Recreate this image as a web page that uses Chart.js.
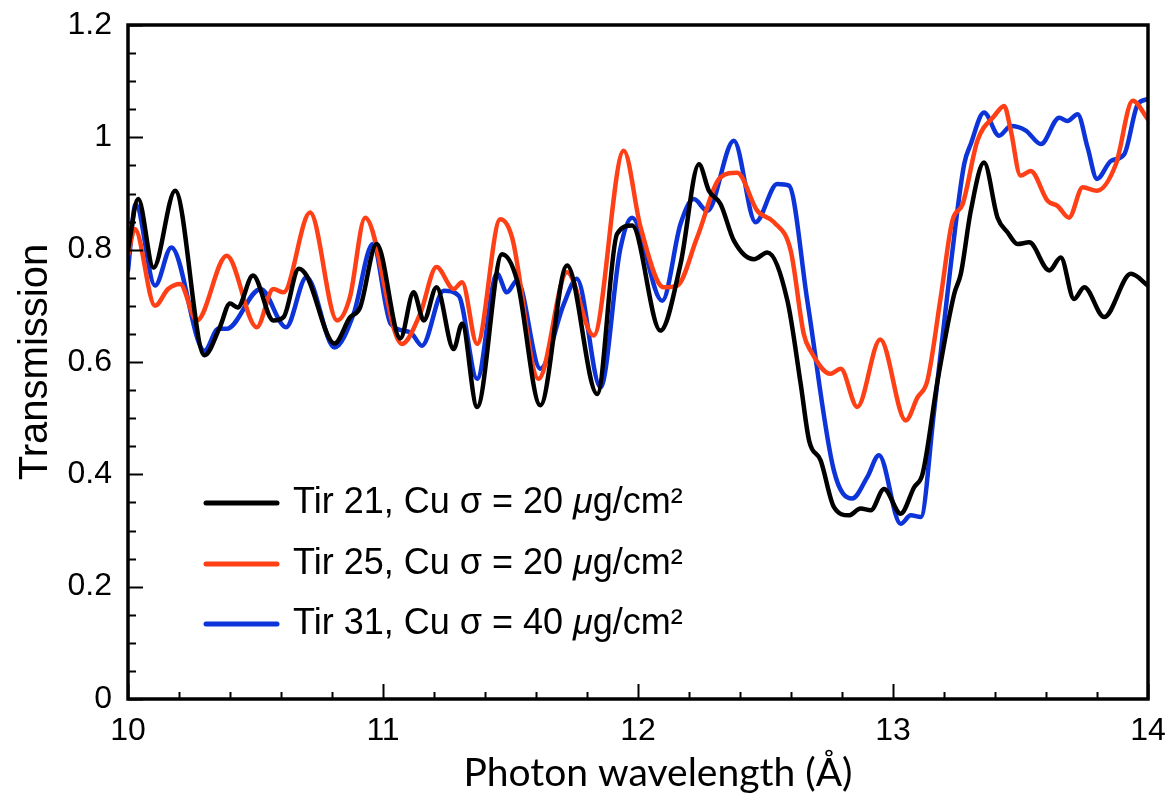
<!DOCTYPE html>
<html>
<head>
<meta charset="utf-8">
<script src="https://cdn.jsdelivr.net/npm/chart.js@4.4.1/dist/chart.umd.min.js"></script>
<style>
  html, body { margin: 0; padding: 0; background: #fff; }
  #wrap { width: 1171px; height: 801px; }
</style>
</head>
<body>
<div id="wrap"><canvas id="c" width="1171" height="801"></canvas></div>
<script>
// ---- Data ----
const tir21X = [10.0, 10.04, 10.10, 10.185, 10.30, 10.36, 10.40, 10.43, 10.49, 10.57, 10.61, 10.67, 10.70, 10.81, 10.87, 10.91, 10.975, 11.068, 11.12, 11.16, 11.21, 11.277, 11.31, 11.369, 11.467, 11.526, 11.617, 11.722, 11.84, 11.918, 11.977, 12.088, 12.167, 12.239, 12.278, 12.324, 12.376, 12.455, 12.507, 12.586, 12.638, 12.671, 12.716, 12.768, 12.827, 12.873, 12.913, 12.965, 13.03, 13.083, 13.116, 13.175, 13.24, 13.266, 13.305, 13.357, 13.41, 13.449, 13.488, 13.534, 13.613, 13.658, 13.71, 13.75, 13.828, 13.933, 14.0];
const tir21Y = [0.80, 0.89, 0.768, 0.905, 0.612, 0.662, 0.704, 0.697, 0.754, 0.674, 0.68, 0.766, 0.754, 0.633, 0.679, 0.697, 0.81, 0.642, 0.724, 0.674, 0.733, 0.623, 0.668, 0.52, 0.792, 0.745, 0.523, 0.772, 0.543, 0.828, 0.843, 0.656, 0.775, 0.952, 0.905, 0.881, 0.816, 0.783, 0.795, 0.709, 0.561, 0.46, 0.425, 0.342, 0.327, 0.339, 0.336, 0.374, 0.33, 0.377, 0.401, 0.567, 0.721, 0.757, 0.869, 0.955, 0.857, 0.831, 0.81, 0.813, 0.763, 0.786, 0.712, 0.733, 0.68, 0.757, 0.736];

const tir25X = [10.0, 10.027, 10.106, 10.157, 10.204, 10.27, 10.387, 10.505, 10.57, 10.61, 10.714, 10.82, 10.87, 10.93, 11.074, 11.146, 11.21, 11.277, 11.31, 11.369, 11.46, 11.506, 11.61, 11.722, 11.826, 11.944, 12.01, 12.10, 12.154, 12.232, 12.324, 12.389, 12.468, 12.533, 12.599, 12.65, 12.677, 12.755, 12.795, 12.86, 12.95, 13.05, 13.096, 13.135, 13.187, 13.233, 13.273, 13.331, 13.397, 13.436, 13.462, 13.50, 13.54, 13.606, 13.645, 13.69, 13.744, 13.80, 13.874, 13.94, 14.0];
const tir25Y = [0.79, 0.837, 0.70, 0.73, 0.739, 0.674, 0.789, 0.662, 0.73, 0.724, 0.866, 0.674, 0.715, 0.857, 0.632, 0.686, 0.769, 0.73, 0.742, 0.632, 0.854, 0.822, 0.57, 0.76, 0.647, 0.976, 0.84, 0.733, 0.736, 0.822, 0.929, 0.937, 0.869, 0.849, 0.798, 0.65, 0.62, 0.579, 0.588, 0.52, 0.64, 0.496, 0.537, 0.567, 0.715, 0.852, 0.881, 0.994, 1.038, 1.056, 1.012, 0.932, 0.94, 0.887, 0.878, 0.857, 0.911, 0.905, 0.952, 1.065, 1.032];

const tir31X = [10.0, 10.03, 10.106, 10.17, 10.30, 10.354, 10.387, 10.52, 10.62, 10.70, 10.81, 10.885, 10.96, 11.03, 11.107, 11.153, 11.238, 11.297, 11.369, 11.447, 11.486, 11.526, 11.617, 11.709, 11.76, 11.853, 11.93, 11.977, 12.095, 12.167, 12.219, 12.272, 12.376, 12.461, 12.546, 12.592, 12.664, 12.768, 12.84, 12.899, 12.945, 13.03, 13.07, 13.109, 13.16, 13.227, 13.279, 13.305, 13.357, 13.416, 13.462, 13.521, 13.58, 13.652, 13.684, 13.724, 13.763, 13.80, 13.855, 13.907, 13.96, 14.0];
const tir31Y = [0.763, 0.881, 0.736, 0.804, 0.62, 0.659, 0.659, 0.73, 0.662, 0.751, 0.626, 0.686, 0.81, 0.668, 0.653, 0.629, 0.727, 0.718, 0.57, 0.757, 0.724, 0.745, 0.588, 0.703, 0.748, 0.555, 0.80, 0.857, 0.709, 0.846, 0.89, 0.869, 0.994, 0.849, 0.917, 0.914, 0.709, 0.407, 0.357, 0.395, 0.434, 0.312, 0.327, 0.324, 0.508, 0.775, 0.952, 0.988, 1.044, 1.003, 1.02, 1.012, 0.988, 1.035, 1.029, 1.041, 0.982, 0.926, 0.958, 0.97, 1.059, 1.068];

const seriesLabels = ['Tir 21, Cu σ = 20 μg/cm²', 'Tir 25, Cu σ = 20 μg/cm²', 'Tir 31, Cu σ = 40 μg/cm²'];
const xTickLabels = ['10', '11', '12', '13', '14'];
const yTickLabels = ['0', '0.2', '0.4', '0.6', '0.8', '1', '1.2'];
const xAxisTitle = 'Photon wavelength (Å)';
const yAxisTitle = 'Transmission';

// ---- styling ----
const colors = ['#000000', '#ff4016', '#0c34d8'];
const pts = (xs, ys) => xs.map((x, i) => ({ x: x, y: ys[i] }));

const frameAndTicks = {
  id: 'frameAndTicks',
  afterDatasetsDraw(chart) {
    const { ctx, chartArea: a, scales } = chart;
    const xs = scales.x, ys = scales.y;
    ctx.save();
    ctx.strokeStyle = '#000';
    ctx.lineWidth = 2;
    for (let k = 0; k <= 20; k++) {
      const v = 10 + k * 0.2;
      const px = Math.round(xs.getPixelForValue(v)) + 0.5;
      const len = (k % 5 === 0) ? 15 : 7;
      ctx.beginPath(); ctx.moveTo(px, a.bottom); ctx.lineTo(px, a.bottom - len); ctx.stroke();
    }
    for (let k = 0; k <= 24; k++) {
      const v = k * 0.05;
      const py = Math.round(ys.getPixelForValue(v)) + 0.5;
      const len = (k % 4 === 0) ? 15 : 8;
      ctx.beginPath(); ctx.moveTo(a.left, py); ctx.lineTo(a.left + len, py); ctx.stroke();
    }
    ctx.lineWidth = 3.5;
    ctx.strokeRect(a.left, a.top, a.right - a.left, a.bottom - a.top);
    ctx.restore();
  }
};

const xTitlePlugin = {
  id: 'xTitlePlugin',
  afterDraw(chart) {
    const { ctx, chartArea: a } = chart;
    ctx.save();
    ctx.fillStyle = '#000';
    ctx.font = '39px Lato, sans-serif';
    ctx.textAlign = 'center';
    ctx.textBaseline = 'middle';
    ctx.fillText(xAxisTitle, (a.left + a.right) / 2 + 20, 773);
    ctx.restore();
  }
};

const insideLegend = {
  id: 'insideLegend',
  afterDraw(chart) {
    const { ctx } = chart;
    const rowsY = [503, 564, 624];
    const f = '36px "Liberation Sans", Arial, sans-serif';
    const fi = 'italic 36px "Liberation Sans", Arial, sans-serif';
    ctx.save();
    chart.data.datasets.forEach((ds, i) => {
      const y = rowsY[i];
      ctx.strokeStyle = ds.borderColor;
      ctx.lineWidth = 5;
      ctx.lineCap = 'round';
      ctx.beginPath(); ctx.moveTo(206, y); ctx.lineTo(277, y); ctx.stroke();
      const label = ds.label;
      const mu = label.indexOf('μ');
      const p1 = label.slice(0, mu), p2 = 'μ', p3 = label.slice(mu + 1);
      ctx.fillStyle = '#000';
      ctx.textBaseline = 'middle';
      ctx.textAlign = 'left';
      let x = 293;
      ctx.font = f;
      ctx.fillText(p1, x, y); x += ctx.measureText(p1).width;
      ctx.font = fi;
      ctx.fillText(p2, x, y); x += ctx.measureText(p2).width;
      ctx.font = f;
      ctx.fillText(p3, x, y);
    });
    ctx.restore();
  }
};

new Chart(document.getElementById('c'), {
  type: 'line',
  data: {
    datasets: [
      { label: seriesLabels[0], data: pts(tir21X, tir21Y), borderColor: colors[0] },
      { label: seriesLabels[1], data: pts(tir25X, tir25Y), borderColor: colors[1] },
      { label: seriesLabels[2], data: pts(tir31X, tir31Y), borderColor: colors[2] }
    ].map(d => Object.assign(d, { borderWidth: 4.5, pointRadius: 0, fill: false, cubicInterpolationMode: 'monotone', borderCapStyle: 'round', borderJoinStyle: 'round' }))
  },
  options: {
    responsive: false,
    animation: false,
    devicePixelRatio: 1,
    layout: { padding: { top: 25, right: 23, left: 0, bottom: 0 } },
    plugins: { legend: { display: false }, tooltip: { enabled: false } },
    scales: {
      x: {
        type: 'linear', min: 10, max: 14,
        grid: { display: false, drawTicks: false },
        border: { display: false },
        ticks: { stepSize: 1, padding: 13, maxRotation: 0, color: '#000', font: { family: 'Liberation Sans', size: 32 },
                 callback: (v, i) => xTickLabels[i] },
        title: { display: false },
        afterFit: (s) => { s.height = 102; s.paddingLeft = 0; s.paddingRight = 0; }
      },
      y: {
        type: 'linear', min: 0, max: 1.2,
        grid: { display: false, drawTicks: false },
        border: { display: false },
        ticks: { stepSize: 0.2, padding: 16, color: '#000', font: { family: 'Liberation Sans', size: 32 },
                 callback: (v, i) => yTickLabels[i] },
        title: { display: true, text: yAxisTitle, color: '#000',
                 font: { family: 'Liberation Sans', size: 40 }, padding: { top: 12, bottom: 0 } },
        afterFit: (s) => { s.width = 128; s.paddingTop = 0; s.paddingBottom = 0; }
      }
    }
  },
  plugins: [frameAndTicks, xTitlePlugin, insideLegend]
});
</script>
</body>
</html>
